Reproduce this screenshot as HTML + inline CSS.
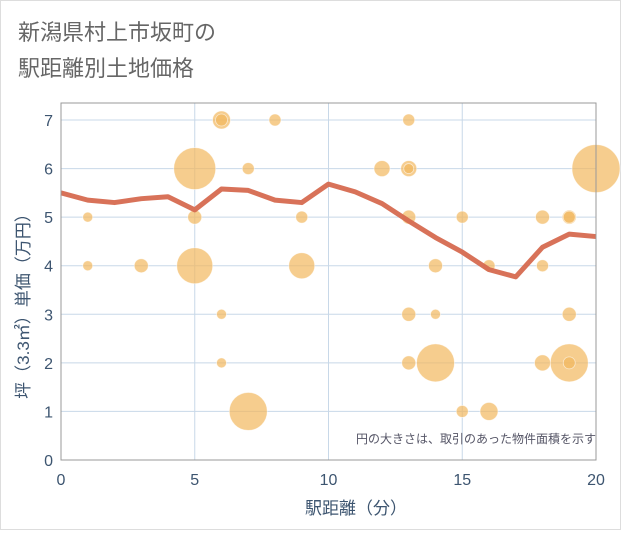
<!DOCTYPE html>
<html><head><meta charset="utf-8"><style>
body{margin:0;background:#fff;}
#wrap{width:621px;height:530px;position:relative;font-family:"Liberation Sans","Noto Sans CJK JP",sans-serif;}
</style></head><body>
<div id="wrap">
<svg id="chart" width="621" height="530" xmlns="http://www.w3.org/2000/svg">
<rect x="0.5" y="0.5" width="620" height="529" fill="#fff" stroke="#ddd"/>
<text x="18" y="40" font-size="22" fill="#666" font-family="Liberation Sans, Noto Sans CJK JP, sans-serif">新潟県村上市坂町の</text>
<text x="18" y="76" font-size="22" fill="#666" font-family="Liberation Sans, Noto Sans CJK JP, sans-serif">駅距離別土地価格</text>
<g id="grid"></g>
<g id="bubbles"></g>
<g id="line"></g>
<g id="axes"></g>
<text x="596" y="443" font-size="12" fill="#556" text-anchor="end" font-family="Liberation Sans, Noto Sans CJK JP, sans-serif">円の大きさは、取引のあった物件面積を示す</text>
<text x="356" y="514" font-size="17" fill="#3d5570" text-anchor="middle" font-family="Liberation Sans, Noto Sans CJK JP, sans-serif">駅距離（分）</text>
<text transform="translate(29,302) rotate(-90)" font-size="17" fill="#3d5570" text-anchor="middle" font-family="Liberation Sans, Noto Sans CJK JP, sans-serif">坪（3.3㎡）単価（万円）</text>
</svg>
</div>
<script>
const xTicks=[0,5,10,15,20];
const yTicks=[0,1,2,3,4,5,6,7];
const lineX=[0,1,2,3,4,5,6,7,8,9,10,11,12,13,14,15,16,17,18,19,20];
const lineY=[5.5,5.35,5.3,5.38,5.42,5.15,5.58,5.55,5.35,5.3,5.68,5.52,5.28,4.92,4.58,4.28,3.92,3.77,4.38,4.65,4.6];
const bubX=[1,1,3,5,5,5,6,6,7,8,9,9,6,6,7,12,13,13,13,13,14,13,14,13,14,15,16,15,16,18,19,19,18,19,18,19,19,20];
const bubY=[5,4,4,6,5,4,7,7,6,7,5,4,3,2,1,6,7,6,6,5,4,3,3,2,2,5,4,1,1,5,5,5,4,3,2,2,2,6];
const bubR=[5,5,7,21,7,18,9,6,6,6,6,13,5,5,19,8,6,8,5,7,7,7,5,7,19,6,6,6,9,7,7,6,6,7,8,19,6,24];
const L=61,R=596,T=103,B=460;
const sx=v=>L+v*(R-L)/20;
const sy=v=>B-v*(B-120)/7;
const NS="http://www.w3.org/2000/svg";
function mk(tag,attrs,parent){const e=document.createElementNS(NS,tag);for(const k in attrs)e.setAttribute(k,attrs[k]);parent.appendChild(e);return e;}
const grid=document.getElementById('grid'),axes=document.getElementById('axes');
for(const t of yTicks){
 const l=mk('line',{x1:L,x2:R,y1:sy(t),y2:sy(t),stroke:'#c8d8e8','stroke-width':1},grid);
 
 
 const tx=mk('text',{x:L-8,y:sy(t)+6,'font-size':16,fill:'#3d5570','text-anchor':'end'},axes);
 tx.textContent=t;
 
 
}
for(const t of xTicks){
 const l=mk('line',{x1:sx(t),x2:sx(t),y1:T,y2:B,stroke:'#c8d8e8','stroke-width':1},grid);
 
 
 const tx=mk('text',{x:sx(t),y:B+25,'font-size':16,fill:'#3d5570','text-anchor':'middle'},axes);
 tx.textContent=t;
 
 
}
const frame=mk('rect',{x:L,y:T,width:R-L,height:B-T,fill:'none',stroke:'#999','stroke-width':1},axes);


const bg=document.getElementById('bubbles');
for(let i=0;i<bubX.length;i++){
 const c=mk('circle',{cx:sx(bubX[i]),cy:sy(bubY[i]),r:bubR[i],fill:'#f2b85e','fill-opacity':0.7,stroke:'#fff','stroke-width':0.8,'stroke-opacity':0.6},bg);
 
 
}
const pts=lineX.map((x,i)=>sx(x)+','+sy(lineY[i])).join(' ');
const pl=mk('polyline',{points:pts,fill:'none',stroke:'#d66a50','stroke-width':5,'stroke-linejoin':'round','stroke-opacity':0.95},document.getElementById('line'));


</script>
</body></html>
